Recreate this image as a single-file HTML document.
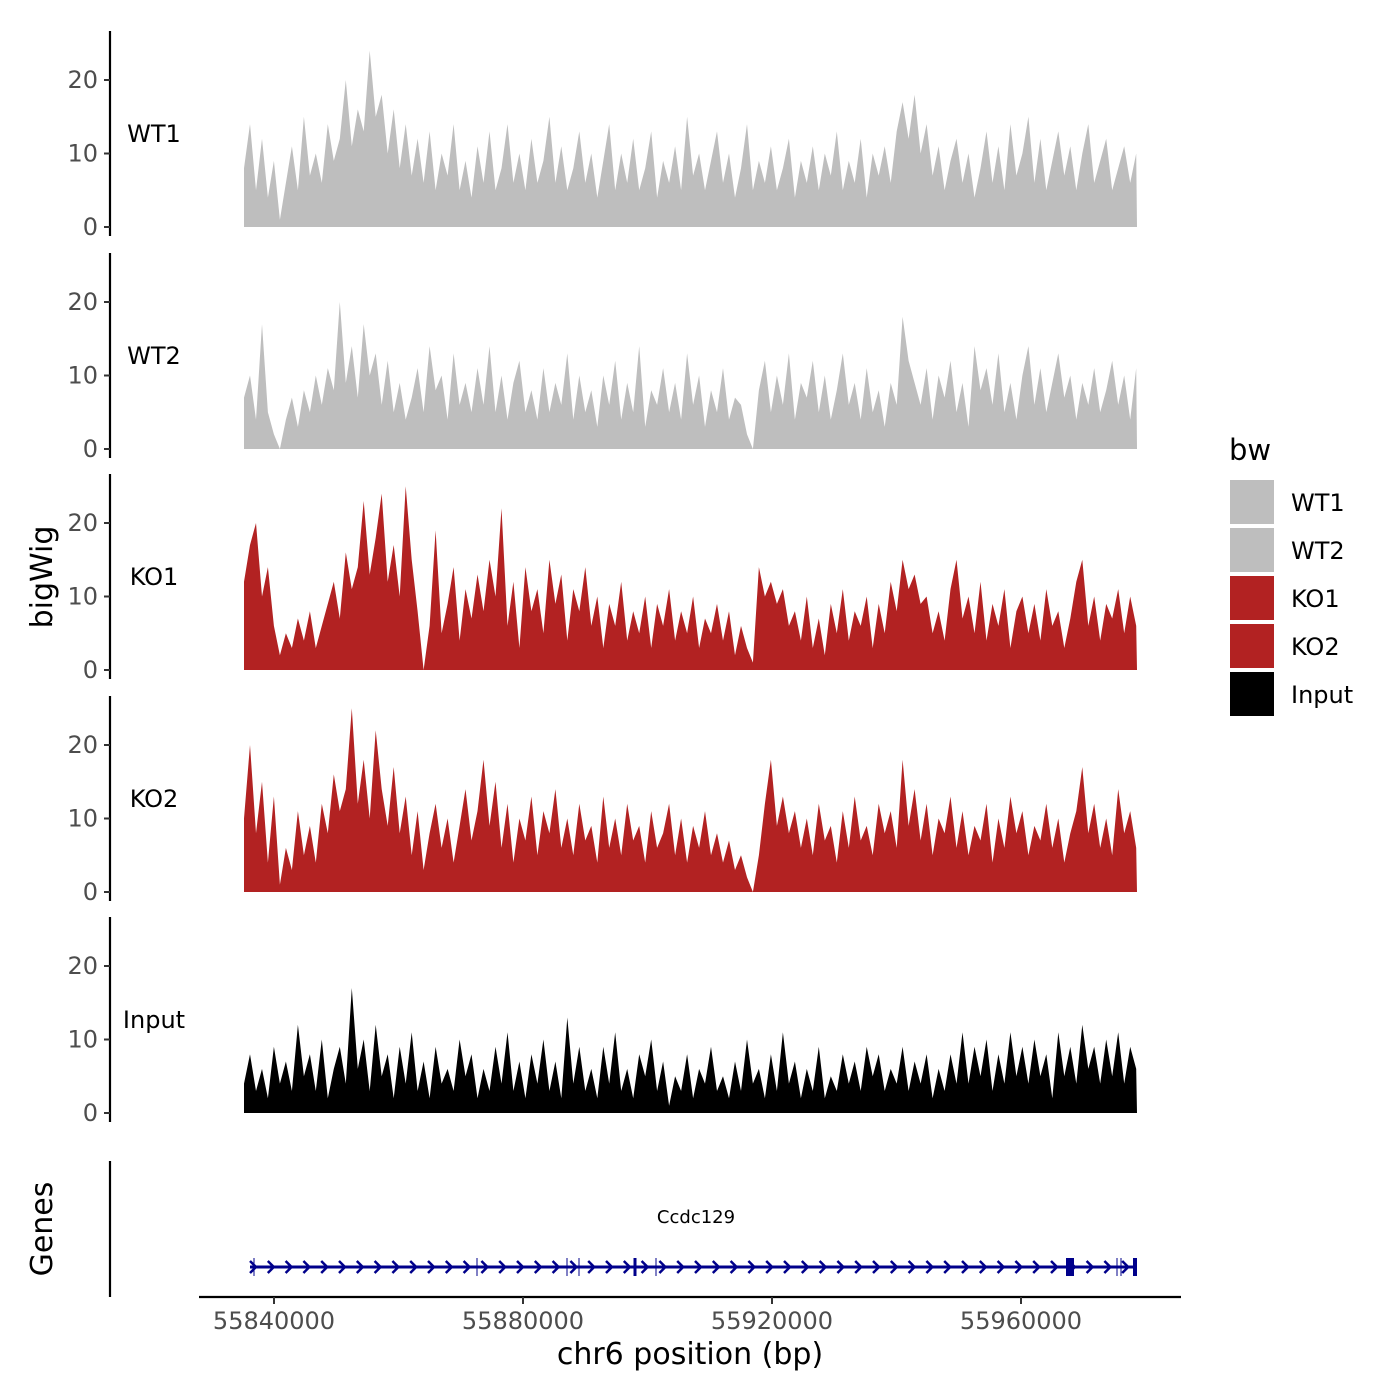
<!DOCTYPE html>
<html><head><meta charset="utf-8">
<style>
body{margin:0;background:#fff;}
svg{display:block;font-family:"DejaVu Sans","Liberation Sans",sans-serif;}
.tick{fill:#4d4d4d;font-size:24px;}
</style></head>
<body>
<svg id="chart" width="1400" height="1400" viewBox="0 0 1400 1400" style="position:absolute;left:0;top:0"></svg>
<script>
const trackNames=["WT1","WT2","KO1","KO2","Input"];
const trackColors=["#bebebe","#bebebe","#b22222","#b22222","#000000"];
const yTicks=[0,10,20];
const xTicks=[55840000,55880000,55920000,55960000];
const wt1=[8,14,5,12,4,9,1,6,11,5, 15,7,10,6,14,9,12,20,11,16, 13,24,15,18,10,16,8,14,7,12, 6,13,5,10,7,14,5,9,4,11, 6,13,5,8,14,6,10,5,12,6, 9,15,6,11,5,8,13,6,10,4, 9,14,5,10,6,12,5,8,13,4, 9,6,11,5,15,7,10,5,9,13, 6,10,4,8,14,5,9,6,11,5, 8,12,4,9,6,11,5,10,7,13, 5,9,6,12,4,10,7,11,6,13, 17,12,18,10,14,7,11,5,9,12, 6,10,4,8,13,6,11,5,14,7, 10,15,6,12,5,9,13,7,11,5, 10,14,6,9,12,5,8,11,6,10];
const wt2=[7,10,4,17,5,2,0,4,7,3, 8,5,10,6,11,8,20,9,14,7, 17,10,13,6,12,5,9,4,7,11, 5,14,8,10,4,13,6,9,5,11, 6,14,5,10,4,9,12,5,8,4, 11,5,9,6,13,4,10,5,8,3, 10,6,12,4,9,5,14,3,8,6, 11,5,9,4,13,6,10,3,8,5, 11,4,7,6,2,0,8,12,5,10, 6,13,4,9,7,12,5,10,4,8, 13,6,9,4,11,5,8,3,9,6, 18,12,9,6,11,4,10,7,12,5, 9,3,14,8,11,6,13,5,9,4, 10,14,6,11,5,9,13,7,10,4, 9,6,11,5,8,12,6,10,4,11];
const ko1=[12,17,20,10,14,6,2,5,3,7, 4,8,3,6,9,12,7,16,11,14, 23,13,18,24,12,17,10,25,15,8, 0,6,19,5,9,14,4,11,7,13, 8,15,10,22,6,12,3,14,8,11, 5,15,9,13,4,11,8,14,6,10, 3,9,6,12,4,8,5,10,3,9, 6,11,4,8,5,10,3,7,5,9, 4,8,2,6,3,1,14,10,12,9, 11,6,8,4,10,3,7,2,9,5, 11,4,8,6,10,3,9,5,12,8, 15,11,13,9,10,5,8,4,11,15, 7,10,5,12,4,9,6,11,3,8, 10,5,9,4,11,6,8,3,7,12, 15,6,10,4,9,7,11,5,10,6];
const ko2=[10,20,8,15,4,13,1,6,3,11, 5,9,4,12,8,16,11,14,25,12, 18,10,22,14,9,17,8,13,5,11, 3,8,12,6,10,4,9,14,7,11, 18,9,15,6,12,4,10,7,13,5, 11,8,14,6,10,5,12,7,9,4, 13,6,10,5,12,7,9,4,11,6, 8,12,5,10,4,9,6,11,5,8, 4,7,3,5,2,0,5,12,18,9, 13,8,11,6,10,5,12,7,9,4, 11,6,13,7,9,5,12,8,11,6, 18,9,14,7,12,5,10,8,13,6, 11,5,9,7,12,4,10,6,13,8, 11,5,9,7,12,6,10,4,8,11, 17,8,12,6,10,5,14,8,11,6];
const inp=[4,8,3,6,2,9,4,7,3,12, 5,8,3,10,2,6,9,4,17,6, 10,3,12,5,8,2,9,4,11,3, 7,2,9,4,6,3,10,5,8,2, 6,3,9,4,11,3,7,2,8,4, 10,3,7,2,13,4,9,3,6,2, 9,4,11,3,6,2,8,5,10,3, 7,1,5,3,8,2,6,4,9,3, 5,2,7,3,10,4,6,2,8,3, 11,4,7,2,6,3,9,2,5,3, 8,4,7,3,9,5,8,3,6,4, 9,3,7,4,8,2,6,3,8,4, 11,4,9,5,10,3,8,4,11,5, 9,4,10,5,8,2,11,5,9,4, 12,6,9,4,10,5,11,4,9,6];
const trackData=[wt1,wt2,ko1,ko2,inp];

const NS="http://www.w3.org/2000/svg";
const svg=document.getElementById("chart");
function mk(tag,attrs,parent){const e=document.createElementNS(NS,tag);for(const k in attrs)e.setAttribute(k,attrs[k]);(parent||svg).appendChild(e);return e;}
const X0=244,X1=1137;
const bpMin=55835180,bpMax=55978500;
function xScale(bp){return 274+(bp-55840000)*249/40000;}
const zeros=[227,449,670,892,1113];
const unit=7.35;
function yScale(v,p){return zeros[p]-v*unit;}

trackNames.forEach((name,p)=>{
  const g=mk("g",{});
  
  
  const data=trackData[p];
  const n=data.length;
  let d="M"+X0+","+zeros[p];
  data.forEach((v,i)=>{
    const bp=bpMin+(bpMax-bpMin)*i/(n-1);
    d+=" L"+xScale(bp).toFixed(1)+","+yScale(v,p).toFixed(1);
  });
  d+=" L"+X1+","+zeros[p]+" Z";
  const area=mk("path",{d:d,fill:trackColors[p]},g);
  
  
  const ax=mk("line",{x1:110,x2:110,y1:zeros[p]-196,y2:zeros[p]+9,stroke:"#000","stroke-width":2.2},g);
  
  
  yTicks.forEach(t=>{
    const y=yScale(t,p);
    mk("line",{x1:104,x2:110,y1:y,y2:y,stroke:"#333","stroke-width":2},g);
    const tx=mk("text",{x:98,y:y+8,"text-anchor":"end",class:"tick"},g);
    tx.textContent=t;
    
    
  });
  const lb=mk("text",{x:154,y:zeros[p]-85,"text-anchor":"middle","font-size":24,fill:"#000"},g);
  lb.textContent=name;
  
  
});

const gg=mk("g",{});


const gax=mk("line",{x1:110,x2:110,y1:1161,y2:1297,stroke:"#000","stroke-width":2.2},gg);


const gy=1267,navy="#00008b";
mk("line",{x1:250,x2:1137,y1:gy,y2:gy,stroke:navy,"stroke-width":3},gg);
for(let x=253;x<1134;x+=17.8){
  mk("path",{d:`M${x-3},${gy-6} L${x+3},${gy} L${x-3},${gy+6}`,stroke:navy,"stroke-width":2.5,fill:"none"},gg);
}
[[254,1],[477,1],[567,1],[579,1],[635,3],[656,1],[1070,8],[1117,1],[1121,1],[1135,4]].forEach(([x,w])=>{
  mk("rect",{x:x-w/2,y:gy-9,width:w,height:18,fill:navy},gg);
});
const gl=mk("text",{x:696,y:1223,"text-anchor":"middle","font-size":18,fill:"#000"},gg);
gl.textContent="Ccdc129";



const xa=mk("line",{x1:199,x2:1181,y1:1297,y2:1297,stroke:"#000","stroke-width":2.2});


xTicks.forEach(t=>{
  const x=xScale(t);
  mk("line",{x1:x,x2:x,y1:1297,y2:1304,stroke:"#333","stroke-width":2});
  const tx=mk("text",{x:x,y:1329,"text-anchor":"middle",class:"tick"});
  tx.textContent=t;
  
  
});
</script>
<svg width="1400" height="1400" style="position:absolute;left:0;top:0;pointer-events:none">
<text x="690" y="1364" text-anchor="middle" font-size="30" fill="#000" font-family="DejaVu Sans,sans-serif">chr6 position (bp)</text>
<text transform="translate(52,577) rotate(-90)" text-anchor="middle" font-size="30" fill="#000" font-family="DejaVu Sans,sans-serif">bigWig</text>
<text transform="translate(52,1229) rotate(-90)" text-anchor="middle" font-size="30" fill="#000" font-family="DejaVu Sans,sans-serif">Genes</text>
<g font-family="DejaVu Sans,sans-serif">
<text x="1229" y="460" font-size="29" fill="#000">bw</text>
<rect x="1230" y="480" width="44" height="44" fill="#bebebe"/>
<rect x="1230" y="528" width="44" height="44" fill="#bebebe"/>
<rect x="1230" y="576" width="44" height="44" fill="#b22222"/>
<rect x="1230" y="624" width="44" height="44" fill="#b22222"/>
<rect x="1230" y="672" width="44" height="44" fill="#000"/>
<text x="1291" y="511" font-size="24">WT1</text>
<text x="1291" y="559" font-size="24">WT2</text>
<text x="1291" y="607" font-size="24">KO1</text>
<text x="1291" y="655" font-size="24">KO2</text>
<text x="1291" y="703" font-size="24">Input</text>
</g>
</svg>
</body></html>
